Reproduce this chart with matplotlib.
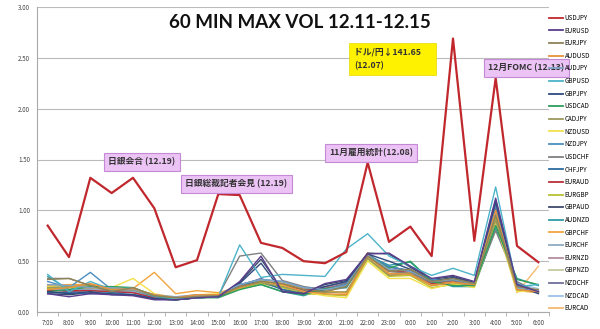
import matplotlib.pyplot as plt
from matplotlib.lines import Line2D

plt.rcParams['font.family'] = ['Noto Sans CJK JP', 'DejaVu Sans']

hours = ['7:00', '8:00', '9:00', '10:00', '11:00', '12:00', '13:00', '14:00',
         '15:00', '16:00', '17:00', '18:00', '19:00', '20:00', '21:00', '22:00',
         '23:00', '0:00', '1:00', '2:00', '3:00', '4:00', '5:00', '6:00']

# max 60-min range per pair
usdjpy = [0.85, 0.54, 1.32, 1.17, 1.32, 1.02, 0.44, 0.51, 1.16, 1.15, 0.68, 0.63,
          0.50, 0.48, 0.59, 1.47, 0.69, 0.84, 0.55, 2.69, 0.70, 2.30, 0.65, 0.49]
eurusd = [0.18, 0.15, 0.18, 0.17, 0.16, 0.12, 0.12, 0.14, 0.15, 0.30, 0.55, 0.20,
          0.18, 0.28, 0.32, 0.57, 0.58, 0.45, 0.33, 0.36, 0.30, 1.12, 0.27, 0.20]
eurjpy = [0.32, 0.33, 0.26, 0.20, 0.24, 0.16, 0.14, 0.15, 0.16, 0.25, 0.30, 0.28,
          0.22, 0.20, 0.25, 0.55, 0.40, 0.42, 0.30, 0.33, 0.28, 0.95, 0.25, 0.22]
audusd = [0.22, 0.24, 0.28, 0.22, 0.23, 0.17, 0.14, 0.17, 0.17, 0.24, 0.30, 0.27,
          0.20, 0.18, 0.17, 0.55, 0.38, 0.37, 0.26, 0.29, 0.27, 1.00, 0.22, 0.20]
audjpy = [0.27, 0.26, 0.24, 0.24, 0.22, 0.17, 0.15, 0.17, 0.17, 0.27, 0.32, 0.30,
          0.24, 0.22, 0.26, 0.56, 0.42, 0.40, 0.30, 0.32, 0.28, 0.98, 0.24, 0.21]
gbpusd = [0.37, 0.20, 0.30, 0.22, 0.24, 0.16, 0.13, 0.14, 0.15, 0.66, 0.34, 0.37,
          0.36, 0.35, 0.62, 0.77, 0.55, 0.45, 0.36, 0.43, 0.36, 1.23, 0.25, 0.27]
gbpjpy = [0.20, 0.18, 0.20, 0.17, 0.17, 0.13, 0.12, 0.14, 0.15, 0.28, 0.48, 0.20,
          0.18, 0.25, 0.30, 0.57, 0.50, 0.42, 0.30, 0.34, 0.28, 1.08, 0.26, 0.18]
usdcad = [0.20, 0.22, 0.25, 0.25, 0.24, 0.16, 0.12, 0.14, 0.14, 0.22, 0.27, 0.20,
          0.17, 0.23, 0.25, 0.56, 0.43, 0.50, 0.30, 0.26, 0.26, 0.85, 0.32, 0.27]
cadjpy = [0.24, 0.25, 0.26, 0.22, 0.22, 0.16, 0.14, 0.16, 0.16, 0.24, 0.29, 0.25,
          0.20, 0.19, 0.20, 0.53, 0.36, 0.38, 0.26, 0.29, 0.26, 0.90, 0.22, 0.20]
nzdusd = [0.25, 0.26, 0.25, 0.24, 0.33, 0.18, 0.14, 0.17, 0.18, 0.24, 0.30, 0.26,
          0.20, 0.16, 0.14, 0.50, 0.33, 0.33, 0.23, 0.28, 0.24, 0.88, 0.20, 0.21]
nzdjpy = [0.30, 0.24, 0.39, 0.22, 0.22, 0.15, 0.13, 0.15, 0.16, 0.27, 0.32, 0.30,
          0.24, 0.22, 0.27, 0.56, 0.45, 0.40, 0.32, 0.32, 0.28, 1.05, 0.28, 0.20]
usdchf = [0.33, 0.33, 0.26, 0.21, 0.23, 0.16, 0.14, 0.16, 0.16, 0.55, 0.58, 0.31,
          0.25, 0.22, 0.28, 0.57, 0.40, 0.38, 0.29, 0.31, 0.27, 0.80, 0.30, 0.19]
chfjpy = [0.19, 0.19, 0.18, 0.19, 0.17, 0.13, 0.12, 0.14, 0.15, 0.27, 0.30, 0.22,
          0.18, 0.22, 0.28, 0.56, 0.45, 0.40, 0.30, 0.33, 0.27, 1.00, 0.27, 0.19]
euraud = [0.21, 0.21, 0.21, 0.20, 0.19, 0.14, 0.13, 0.15, 0.15, 0.25, 0.30, 0.26,
          0.22, 0.23, 0.27, 0.58, 0.40, 0.40, 0.28, 0.31, 0.27, 1.05, 0.25, 0.20]
eurgbp = [0.23, 0.24, 0.24, 0.23, 0.22, 0.16, 0.13, 0.15, 0.16, 0.23, 0.28, 0.24,
          0.18, 0.17, 0.16, 0.52, 0.35, 0.36, 0.24, 0.27, 0.25, 0.92, 0.21, 0.22]
gbpaud = [0.18, 0.17, 0.19, 0.18, 0.17, 0.13, 0.12, 0.14, 0.15, 0.29, 0.52, 0.22,
          0.19, 0.27, 0.31, 0.58, 0.57, 0.44, 0.32, 0.35, 0.29, 1.10, 0.26, 0.19]
audnzd = [0.35, 0.22, 0.25, 0.23, 0.23, 0.17, 0.13, 0.15, 0.15, 0.23, 0.27, 0.20,
          0.16, 0.23, 0.24, 0.55, 0.46, 0.49, 0.31, 0.25, 0.25, 0.82, 0.33, 0.26]
gbpchf = [0.26, 0.27, 0.27, 0.24, 0.23, 0.39, 0.18, 0.21, 0.19, 0.25, 0.30, 0.28,
          0.23, 0.21, 0.19, 0.56, 0.37, 0.39, 0.27, 0.30, 0.26, 0.98, 0.21, 0.19]
eurchf = [0.22, 0.22, 0.22, 0.21, 0.20, 0.15, 0.13, 0.15, 0.15, 0.24, 0.28, 0.25,
          0.20, 0.21, 0.24, 0.55, 0.40, 0.38, 0.28, 0.30, 0.26, 0.95, 0.24, 0.21]
eurnzd = [0.24, 0.22, 0.23, 0.22, 0.21, 0.16, 0.14, 0.16, 0.16, 0.25, 0.30, 0.27,
          0.22, 0.24, 0.28, 0.56, 0.41, 0.42, 0.31, 0.31, 0.27, 0.97, 0.25, 0.20]
gbpnzd = [0.26, 0.25, 0.25, 0.23, 0.22, 0.17, 0.14, 0.16, 0.16, 0.26, 0.31, 0.28,
          0.23, 0.22, 0.25, 0.57, 0.40, 0.40, 0.29, 0.31, 0.27, 0.96, 0.23, 0.22]
nzdchf = [0.22, 0.20, 0.21, 0.20, 0.19, 0.14, 0.13, 0.15, 0.15, 0.26, 0.33, 0.25,
          0.21, 0.25, 0.29, 0.56, 0.44, 0.41, 0.31, 0.32, 0.27, 1.02, 0.26, 0.19]
nzdcad = [0.26, 0.22, 0.24, 0.23, 0.22, 0.16, 0.13, 0.15, 0.15, 0.27, 0.32, 0.30,
          0.24, 0.23, 0.27, 0.57, 0.44, 0.41, 0.31, 0.32, 0.28, 1.02, 0.28, 0.23]
eurcad = [0.25, 0.25, 0.25, 0.24, 0.23, 0.17, 0.14, 0.17, 0.17, 0.26, 0.31, 0.28,
          0.22, 0.20, 0.18, 0.54, 0.36, 0.36, 0.26, 0.29, 0.25, 0.95, 0.19, 0.45]

pairs = ['USDJPY', 'EURUSD', 'EURJPY', 'AUDUSD', 'AUDJPY', 'GBPUSD', 'GBPJPY',
         'USDCAD', 'CADJPY', 'NZDUSD', 'NZDJPY', 'USDCHF', 'CHFJPY', 'EURAUD',
         'EURGBP', 'GBPAUD', 'AUDNZD', 'GBPCHF', 'EURCHF', 'EURNZD', 'GBPNZD',
         'NZDCHF', 'NZDCAD', 'EURCAD']
series = [usdjpy, eurusd, eurjpy, audusd, audjpy, gbpusd, gbpjpy, usdcad, cadjpy,
          nzdusd, nzdjpy, usdchf, chfjpy, euraud, eurgbp, gbpaud, audnzd, gbpchf,
          eurchf, eurnzd, gbpnzd, nzdchf, nzdcad, eurcad]
colors = ['#c0282e', '#5a3d8c', '#8e8456', '#e8923b', '#7fa3c4', '#4cb3c9',
          '#2f4a7e', '#2e9e5b', '#9c9a5c', '#f3e04c', '#4a8ec0', '#808080',
          '#2e6c9e', '#b8323a', '#b7c232', '#3d4a6b', '#2e9ca3', '#f2a33d',
          '#8eaac2', '#b48ea0', '#c5c9a0', '#6e6e9e', '#9dc3e6', '#f5b971']

fig = plt.figure(figsize=(6, 3.29), dpi=100)
ax = fig.add_axes([37 / 600, 1 - 312 / 329, 512 / 600, 305 / 329])

x = list(range(len(hours)))
# draw the small ones first, USDJPY on top
for name, vals, c in list(zip(pairs, series, colors))[::-1]:
    lw = 1.6 if name == 'USDJPY' else 1.0
    ax.plot(x, vals, color=c, lw=lw, label=name, zorder=3 if name == 'USDJPY' else 2)

ax.set_xlim(-0.5, len(hours) - 0.5)
ax.set_ylim(0, 3.0)
ax.set_yticks([0, 0.5, 1.0, 1.5, 2.0, 2.5, 3.0])
ax.set_yticklabels(['0.00', '0.50', '1.00', '1.50', '2.00', '2.50', '3.00'])
ax.set_xticks(x)
ax.set_xticklabels(hours)
ax.tick_params(axis='both', labelsize=4.5, colors='#444444', length=0, pad=5)
ax.set_xticks([i - 0.5 for i in range(len(hours) + 1)], minor=True)
ax.tick_params(axis='x', which='minor', length=3, color='#aaaaaa')
ax.grid(axis='y', color='#bbbbbb', lw=0.8)
for s in ['top', 'right']:
    ax.spines[s].set_visible(False)
ax.spines['left'].set_color('#aaaaaa')
ax.spines['bottom'].set_color('#aaaaaa')

fig.text(300 / 600, 1 - 22 / 329, '60 MIN MAX VOL 12.11-12.15', family='Lato',
         fontsize=13.5, fontweight='bold', ha='center', va='center', color='#111111')

handles = [Line2D([], [], color=c, lw=1.3) for c in colors]
fig.legend(handles, pairs, loc='upper left', bbox_to_anchor=(549 / 600, 1 - 14 / 329),
           frameon=False, fontsize=4.5, labelspacing=0.74, handlelength=2.2,
           handletextpad=0.3, borderaxespad=0, borderpad=0)

pink = dict(boxstyle='square,pad=0.5', fc='#ecc3f5', ec='#c48ad6', lw=0.8)
note_kw = dict(fontsize=6.3, fontweight='bold', color='#333333', va='center', ha='left')
fig.text(108 / 600, 1 - 162 / 329, '日銀会合 (12.19)', bbox=pink, **note_kw)
fig.text(185 / 600, 1 - 184 / 329, '日銀総裁記者会見 (12.19)', bbox=pink, **note_kw)
fig.text(329 / 600, 1 - 153 / 329, '11月雇用統計(12.08)', bbox=pink, **note_kw)
fig.text(488 / 600, 1 - 68 / 329, '12月FOMC (12.13)', bbox=pink, zorder=5, **note_kw)
fig.text(354 / 600, 1 - 59 / 329, 'ドル/円↓141.65     \n(12.07)', linespacing=1.6,
         bbox=dict(boxstyle='square,pad=0.6', fc='#fff200', ec='#e8d800', lw=0.5),
         **note_kw)

fig.savefig('out.png', dpi=100)
